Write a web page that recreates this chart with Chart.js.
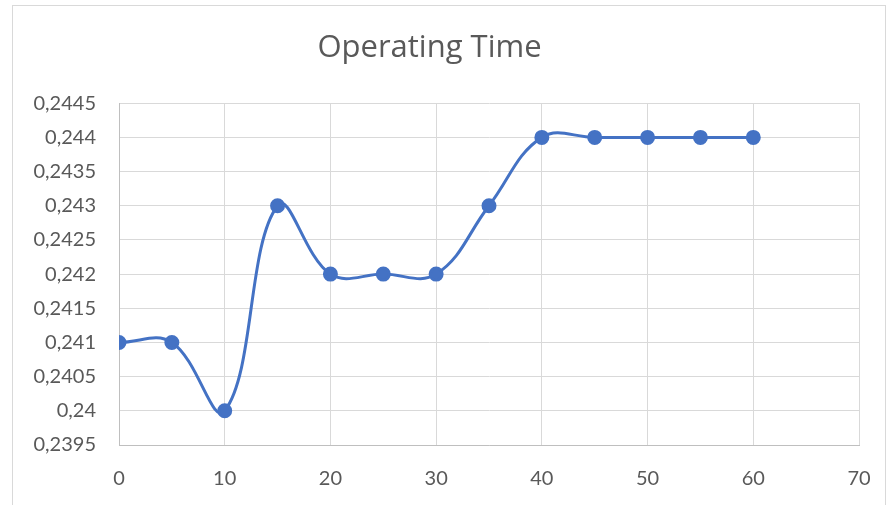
<!DOCTYPE html>
<html>
    <head>
        <title>Operating Time</title>
        <script src="https://cdn.jsdelivr.net/npm/chart.js@4.4.1/dist/chart.umd.min.js"></script>
        <style>
            body { margin: 0; background: #ffffff; }
            #frame { position: absolute; left: 12px; top: 5px; width: 872px; height: 520px; border: 1px solid #d9d9d9; }
            #wrap { position: absolute; left: 0; top: 0; width: 888px; height: 505px; }
        </style>
    </head>
    <body>
        <!--Outer chart border, like the office chart frame-->
        <div id="frame"></div>
        <div id="wrap">
            <canvas id="lineChart"></canvas>
        </div>

        <script>
            //Time values (x) and operating time (y)
            const times = [0, 5, 10, 15, 20, 25, 30, 35, 40, 45, 50, 55, 60];
            const operatingTime = [0.241, 0.241, 0.240, 0.243, 0.242, 0.242, 0.242, 0.243, 0.244, 0.244, 0.244, 0.244, 0.244];
            //Tick values for the axes
            const xTicks = [0, 10, 20, 30, 40, 50, 60, 70];
            const yTicks = [0.2395, 0.24, 0.2405, 0.241, 0.2415, 0.242, 0.2425, 0.243, 0.2435, 0.244, 0.2445];

            const points = [];
            for (var i = 0; i < times.length; i++) {
                points.push({ x: times[i], y: operatingTime[i] });
            }

            const font = "Lato, 'Open Sans', sans-serif";
            const textColor = "#595959";

            const config = {
                type: 'scatter',
                data: {
                    datasets: [{
                        label: "Operating Time",
                        data: points,
                        showLine: true,
                        borderColor: "#4472c4",
                        backgroundColor: "#4472c4",
                        borderWidth: 3,
                        tension: 0.4,
                        pointRadius: 6,
                        pointHoverRadius: 6
                    }]
                },
                options: {
                    responsive: false,
                    animation: false,
                    layout: { padding: { left: 0, right: 29, top: 0, bottom: 0 } },
                    plugins: {
                        legend: { display: false },
                        tooltip: { enabled: false },
                        title: {
                            display: true,
                            text: "Operating Time",
                            color: textColor,
                            font: { family: "'Open Sans', sans-serif", size: 31, weight: 'normal', lineHeight: 1.2 },
                            padding: { top: 30, bottom: 36 }
                        }
                    },
                    scales: {
                        x: {
                            type: 'linear',
                            min: 0,
                            max: 70,
                            afterBuildTicks: function (scale) {
                                scale.ticks = xTicks.map(v => ({ value: v }));
                            },
                            //fixed height and no extra room for the end labels
                            afterFit: function (scale) {
                                scale.height = 60;
                                scale.paddingLeft = 0;
                                scale.paddingRight = 0;
                            },
                            grid: { color: "#d9d9d9", drawTicks: false },
                            border: { color: "#bfbfbf", width: 1 },
                            ticks: { color: textColor, padding: 22, font: { family: font, size: 20 } }
                        },
                        y: {
                            type: 'linear',
                            min: 0.2395,
                            max: 0.2445,
                            afterBuildTicks: function (scale) {
                                scale.ticks = yTicks.map(v => ({ value: v }));
                            },
                            afterFit: function (scale) { scale.width = 119; },
                            grid: { color: "#d9d9d9", drawTicks: false },
                            border: { color: "#bfbfbf", width: 1 },
                            ticks: {
                                color: textColor,
                                padding: 23,
                                font: { family: font, size: 20 },
                                callback: function (v) {
                                    return String(Number(v.toFixed(4))).replace('.', ',');
                                }
                            }
                        }
                    }
                }
            };

            const canvas = document.getElementById("lineChart");
            canvas.width = 888;
            canvas.height = 505;
            new Chart(canvas, config);
        </script>
    </body>
</html>
